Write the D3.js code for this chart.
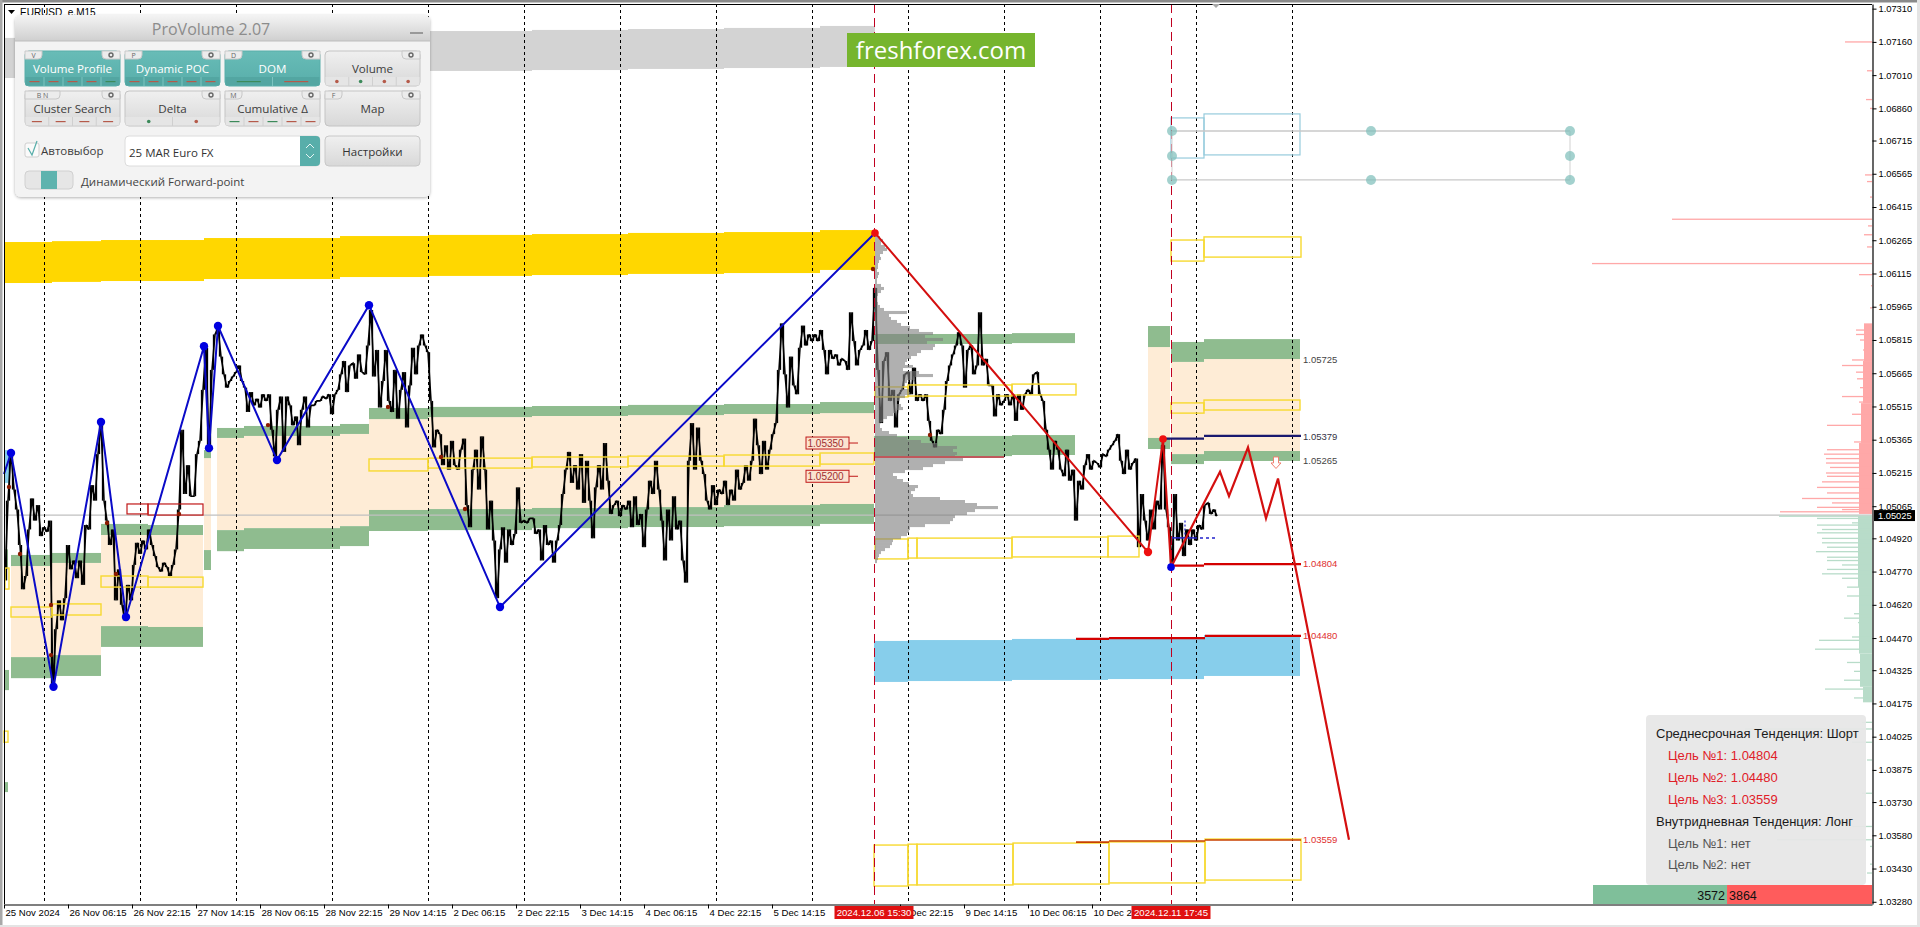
<!DOCTYPE html>
<html><head><meta charset="utf-8"><title>EURUSD M15</title>
<script src="https://cdn.jsdelivr.net/npm/d3@7/dist/d3.min.js"></script>
<style>html,body{margin:0;padding:0;background:#fff;overflow:hidden}svg{display:block}text{font-family:"Liberation Sans",Arial,sans-serif}</style>
</head><body><svg id="c" width="1920" height="927"></svg>
<script>
// ---- axis labels (prices are stored in points: 10502 = 1.0502) ----
const priceTicks=[10731,10716,10701,10686,10671.5,10656.5,10641.5,10626.5,10611.5,10596.5,10581.5,10566.5,10551.5,10536.5,10521.5,10506.5,10492,10477,10462,10447,10432.5,10417.5,10402.5,10387.5,10373,10358,10343,10328];
const timeBars=[0,64,128,192,256,320,384,448,512,576,640,704,768,896,960,1024,1088];
const timeLabels=["25 Nov 2024","26 Nov 06:15","26 Nov 22:15","27 Nov 14:15","28 Nov 06:15","28 Nov 22:15","29 Nov 14:15","2 Dec 06:15","2 Dec 22:15","3 Dec 14:15","4 Dec 06:15","4 Dec 22:15","5 Dec 14:15","6 Dec 22:15","9 Dec 14:15","10 Dec 06:15","10 Dec 22:15"];
const daySeparators=[40,136,232,328,424,520,616,712,808,904,1000,1096,1192,1288];
const eventBars=[870,1167];
const eventLabels=["2024.12.06 15:30","2024.12.11 17:45"];
// ---- price, read every third bar starting at bar 1 ----
const priceStep=3;
const priceVals=[
10473,10509,10531,10514,10505,10489,10469,10475,10496,10510,
10500,10507,10493,10497,10495,10500,10424,10451,10464,10455,
10465,10489,10478,10482,10474,10482,10471,10498,10496,10516,
10509,10530,10544,10509,10500,10489,10496,10464,10478,10462,
10455,10471,10464,10480,10490,10485,10491,10487,10496,10489,
10484,10479,10477,10481,10479,10475,10480,10487,10505,10541,
10512,10525,10511,10511,10530,10536,10559,10578,10532,10568,
10584,10587,10574,10566,10560,10563,10565,10567,10570,10563,
10560,10549,10558,10552,10555,10551,10557,10554,10557,10541,
10529,10550,10556,10531,10556,10552,10543,10547,10534,10550,
10556,10542,10552,10552,10554,10554,10556,10555,10557,10548,
10557,10559,10566,10572,10558,10570,10571,10564,10575,10567,
10566,10579,10595,10565,10577,10551,10563,10577,10554,10549,
10568,10546,10559,10567,10542,10561,10578,10566,10579,10584,
10579,10576,10554,10533,10541,10539,10525,10534,10523,10536,
10525,10523,10532,10537,10507,10497,10523,10532,10514,10538,
10523,10496,10509,10491,10465,10487,10497,10481,10496,10489,
10494,10515,10499,10500,10499,10501,10501,10494,10496,10482,
10498,10489,10491,10481,10491,10498,10512,10523,10531,10517,
10525,10514,10530,10508,10527,10509,10492,10515,10525,10514,
10535,10518,10503,10507,10509,10502,10507,10505,10509,10497,
10511,10498,10503,10488,10505,10518,10512,10527,10514,10500,
10482,10505,10491,10511,10496,10500,10482,10472,10527,10544,
10523,10542,10527,10521,10509,10505,10516,10507,10514,10512,
10518,10507,10514,10509,10523,10514,10517,10525,10518,10527,
10546,10534,10521,10536,10523,10532,10539,10544,10568,10589,
10566,10551,10574,10561,10557,10578,10588,10579,10584,10581,
10584,10581,10586,10577,10566,10577,10573,10575,10570,10573,
10572,10568,10594,10581,10570,10577,10579,10586,10577,10581,
10605,10568,10544,10572,10576,10554,10559,10542,10557,10559,
10566,10567,10557,10569,10554,10557,10554,10557,10545,10536,
10533,10541,10539,10550,10563,10570,10575,10579,10585,10579,
10560,10577,10579,10566,10570,10594,10570,10573,10561,10561,
10547,10557,10552,10554,10557,10552,10557,10545,10557,10550,
10557,10559,10557,10566,10567,10557,10554,10541,10532,10523,
10536,10532,10523,10520,10532,10518,10523,10500,10518,10514,
10525,10530,10523,10527,10526,10524,10530,10529,10532,10534,
10536,10539,10527,10521,10532,10523,10526,10528,10488,10512,
10500,10491,10505,10496,10509,10505,10534,10505,10497,10481,
10512,10491,10499,10484,10496,10489,10496,10491,10498,10496,
10507,10508,10503,10505,10502];
const bidPips=10502.5;
// ---- zigzags ----
const blueBars=[0,7,49.5,97,122,200,205,214,273,365,496,871];
const bluePips=[10521,10530.5,10425,10544.5,10456.5,10578.7,10532.7,10587.8,10527.3,10597.2,10461,10629.8];
const redBars=[871,1144,1159,1167];
const redPips=[10629.8,10485.8,10536.8,10479];
const forecastBars=[1167,1216,1225,1244,1262,1274,1345];
const forecastPips=[10479,10522,10511,10533,10501,10519,10356];
const markBars=[5,16,47,47,103,112,175,264,384,437,461,926,869];
const markPips=[10515.2,10484.9,10461.9,10439.3,10498.9,10475.9,10503,10543.1,10551.3,10528.7,10505.2,10538.6,10613.5];
// ---- daily value-area blocks ----
const blockStart=[7,48,97,144,200,213,240,336,365,424,528,624,720,816,1144,1167,1200];
const blockEnd=[48,97,144,199,207,240,336,365,424,528,624,720,816,870,1166,1200,1296];
const vahHi=[10484.5,10485.4,10498.5,10498,10531.8,10541.8,10542.7,10543.6,10550.8,10551.3,10551.7,10552.2,10552.6,10553.5,10587.8,10580.6,10581.9];
const vahLo=[10479.5,10480.9,10493.5,10493.5,10528.2,10537.3,10538.2,10539.1,10545.8,10546.7,10547.2,10547.6,10548.1,10548.5,10578.3,10571.6,10572.9];
const valHi=[10438.4,10439.3,10452.4,10452,10486.7,10495.7,10496.6,10497.5,10504.8,10505.2,10505.7,10506.1,10507,10507.5,10537.3,10530,10531.4];
const valLo=[10428.9,10429.9,10443,10443,10477.7,10486.2,10487.2,10488.5,10495.3,10495.7,10496.6,10497.1,10497.5,10498.5,10532.3,10525.5,10526.9];
const greenStart=[1,0,0,870,1008,870,1008];
const greenEnd=[5,4,4,1008,1071,1008,1071];
const greenHi=[10432.6,10382,10487,10584.2,10584.6,10538.2,10538.6];
const greenLo=[10423.5,10377.5,10478,10579.7,10580.1,10529.1,10529.6];
const goldStart=[0,48,97,200,336,424,528,624,720,816];
const goldEnd=[48,97,200,336,424,528,624,720,816,871];
const goldHi=[10625.7,10626.1,10626.6,10627.5,10628.4,10628.9,10629.3,10629.8,10630.2,10631.1];
const goldLo=[10607.2,10607.7,10608.1,10609,10609.9,10610.4,10610.8,10611.3,10611.7,10613.1];
const greyStart=[0,48,200,424,528,624,720,816];
const greyEnd=[48,200,424,528,624,720,816,871];
const greyHi=[10717.8,10718.2,10720,10720.9,10721.4,10721.8,10722.3,10723.2];
const greyLo=[10699.7,10700.2,10702,10702.9,10703.3,10703.8,10704.2,10704.7];
const skyStart=[1,870,904,1008,1104,1200];
const skyEnd=[6,904,1008,1104,1200,1296];
const skyHi=[10531.8,10445.7,10446.1,10446.6,10447,10448.4];
const skyLo=[10517,10427.2,10427.6,10428.1,10428.5,10429.9];
// ---- outlined zones ----
const yellowStart=[1,7,48,97,144,365,424,528,624,720,816,871,904,1008,871,904,913,1008,1104,1167,1200,1167,1200,870,904,913,1009,1105,1201,0];
const yellowEnd=[5,48,97,144,199,424,528,624,720,816,870,904,1008,1072,904,913,1008,1104,1135,1200,1296,1200,1297,904,913,1009,1105,1201,1297,4];
const yellowHi=[10478.6,10461,10462.4,10475,10474.5,10527.8,10528.2,10528.7,10529.1,10529.6,10530.5,10560.3,10561.2,10561.6,10491.7,10492.1,10492.1,10492.6,10493,10553.1,10554.4,10626.6,10628,10353.6,10354,10354,10354.5,10355,10356.3,10405];
const yellowLo=[10469.1,10456.5,10457.4,10470,10470,10522.4,10523.7,10524.2,10524.6,10524.6,10525.5,10555.8,10556.2,10556.7,10482.7,10483.1,10483.1,10483.6,10483.6,10548.5,10549.9,10617.1,10618.9,10335.1,10335.6,10335.6,10336,10336.5,10337.8,10400];
const redBoxStart=[123,144], redBoxEnd=[144,199], redBoxHi=[10507.5,10507.5], redBoxLo=[10503,10502.5];
const cyanStart=[1167,1200], cyanEnd=[1200,1296], cyanHi=[10681.7,10683.5], cyanLo=[10663.6,10665];
// ---- forward-point tool ----
const toolBars=[1168,1367,1566];
const toolPips=[10675.8,10664.5,10653.7];
// ---- level lines and labels ----
const levelStart=[1159,1200,1167,1200,1072,1105,1201,1072,1105,1201];
const levelEnd=[1200,1297,1200,1297,1105,1201,1297,1105,1201,1297];
const levelPips=[10537,10538.2,10479.7,10480.4,10446.6,10447,10448,10354.9,10355.4,10355.9];
const levelColors=["#191970","#191970","#d40000","#d40000","#d40000","#d40000","#d40000","#c84000","#c84000","#c84000"];
const levelTextPips=[10572.5,10537.9,10527,10480.4,10448,10355.9];
const levelTexts=["1.05725","1.05379","1.05265","1.04804","1.04480","1.03559"];
const levelTextColors=["#444","#334","#444","#e03030","#e03030","#e03030"];
const tagPips=[10535,10520], tagTexts=["1.05350","1.05200"];
// ---- session volume profile, one row every 1.354 points from the high ----
const profileTop=10629.8, profileRow=1.354;
const profileVol=[2,5,8,6,10,12,8,5,6,4,3,3,2,4,3,2,2,6,9,6,3,2,2,3,5,9,32,14,16,22,26,35,44,58,50,68,52,60,58,46,42,36,32,30,38,28,44,58,40,32,30,28,34,35,30,24,22,26,28,20,18,12,8,5,5,7,14,22,32,46,62,82,78,82,80,88,70,58,48,30,18,22,28,34,43,40,36,38,65,90,102,123,100,92,80,78,75,50,35,34,32,26,18,17,15,10,6,4,3,2];
const pocPips=10528.7;
// ---- DOM histogram at the right edge ----
const sellBasePips=[10589,10572,10553,10535,10503], sellBaseVol=[8,9,11,13,14];
const buyBasePips=[10502,10470,10440,10425,10418], buyBaseVol=[14,13,12,9,8];
const sellPips=[10716,10703,10690,10686,10656,10653,10646,10636,10633,10629,10623.5,10616,10611,10606,10596,10586,10584,10581.5,10577,10572.5,10570,10567,10564,10560,10556,10553.5,10548,10543,10535.5,10532,10530,10528,10526,10524,10521.5,10520,10517.5,10515,10512.5,10510,10508,10506,10505,10504];
const sellVol=[27,5,6,2,7,5,2,200,4,8,5,280,13,1,2,16,16,12,9,20,30,16,15,12,30,13,20,45,18,45,48,46,46,42,46,45,50,55,45,70,40,55,30,92];
const buyPips=[10502,10501,10499,10498,10496,10494.5,10492,10490,10488,10486,10483.5,10482,10480,10478,10476,10474,10470,10466,10462,10458,10456,10454,10447.5,10446,10442,10436,10432,10428,10424,10420,10409,10406,10400,10392,10377,10362,10356,10353,10345,10341];
const buyVol=[93,55,20,55,50,55,50,50,45,56,45,45,30,45,50,30,25,25,13,18,28,14,20,53,57,25,18,28,47,18,10,127,20,5,10,20,95,2,2,5];
// ---- summary panel ----
const sellCount=3864,buyCount=3572;
const trendLines=["Среднесрочная Тенденция: Шорт","Цель №1: 1.04804","Цель №2: 1.04480","Цель №3: 1.03559","Внутридневная Тенденция: Лонг","Цель №1: нет","Цель №2: нет"];
const trendKinds=["h","r","r","r","h","g","g"];
// ---- ProVolume panel ----
const buttonLabels=["Volume Profile","Dynamic POC","DOM","Volume","Cluster Search","Delta","Cumulative Δ","Map"];
const buttonTabs=["V","P","D","","B N","","M","F"];
const buttonActive=[1,1,1,0,0,0,0,0];
const buttonMarks=["rrrrg","rrrrr","GR","*r*g*r*r","rrrr","*g*r","grgrr",""];

const svg=d3.select("#c");
const x=d3.scaleLinear([0,1868],[4,1872]);
const y=d3.scaleLinear([10733.1,10327],[4,904]);
const fmt=v=>(v/10000).toFixed(5);
const zip=(a,...r)=>a.map((v,i)=>[v,...r.map(q=>q[i])]);

// frame
svg.append("rect").attr("x",0).attr("y",0).attr("width",1920).attr("height",2.5).attr("fill","#8a8a8a");
svg.append("rect").attr("x",0).attr("y",0).attr("width",2.5).attr("height",927).attr("fill","#a8a8a8");
svg.append("rect").attr("x",1917).attr("y",0).attr("width",3).attr("height",927).attr("fill","#e4e4e4");
svg.append("rect").attr("x",0).attr("y",925).attr("width",1920).attr("height",2).attr("fill","#e4e4e4");

function zones(sel,s,e,h,l,fill){
  sel.append("g").selectAll("rect").data(zip(s,e,h,l)).join("rect")
   .attr("x",d=>x(d[0])).attr("width",d=>x(d[1])-x(d[0]))
   .attr("y",d=>y(d[2])).attr("height",d=>y(d[3])-y(d[2])).attr("fill",fill);
}
function boxes(sel,s,e,h,l,col,w){
  sel.append("g").selectAll("rect").data(zip(s,e,h,l)).join("rect")
   .attr("x",d=>x(d[0])).attr("width",d=>x(d[1])-x(d[0]))
   .attr("y",d=>y(d[2])).attr("height",d=>y(d[3])-y(d[2]))
   .attr("fill","none").attr("stroke",col).attr("stroke-width",w);
}
const bg=svg.append("g");
zones(bg,blockStart,blockEnd,vahLo,valHi,"#feecd6");
zones(bg,blockStart,blockEnd,vahHi,vahLo,"#8fbc8f");
zones(bg,blockStart,blockEnd,valHi,valLo,"#8fbc8f");
zones(bg,greenStart,greenEnd,greenHi,greenLo,"#8fbc8f");
zones(bg,goldStart,goldEnd,goldHi,goldLo,"#ffd700");
zones(bg,greyStart,greyEnd,greyHi,greyLo,"#d3d3d3");
zones(bg,skyStart,skyEnd,skyHi,skyLo,"#87ceeb");

// bid line & separators
svg.append("line").attr("x1",x(0)).attr("x2",x(1868)).attr("y1",y(bidPips)).attr("y2",y(bidPips)).attr("stroke","#c0c0c0").attr("stroke-width",1.2);
svg.append("g").selectAll("line").data(daySeparators).join("line")
 .attr("x1",d=>x(d)+.5).attr("x2",d=>x(d)+.5).attr("y1",4).attr("y2",904)
 .attr("stroke","#000").attr("stroke-width",1).attr("stroke-dasharray","3 3");

// price: line plus a high-low stroke for each pair of neighbouring readings
svg.append("path").datum(priceVals).attr("fill","none").attr("stroke","#000").attr("stroke-width",1.6)
 .attr("stroke-linejoin","miter").attr("stroke-miterlimit",2)
 .attr("d",d3.line().x((d,i)=>x(1+i*priceStep)).y(d=>y(d)));
svg.append("g").selectAll("line").data(priceVals.slice(1)).join("line")
 .attr("x1",(d,i)=>x(1+i*priceStep)+1.5).attr("x2",(d,i)=>x(1+i*priceStep)+1.5)
 .attr("y1",(d,i)=>y(priceVals[i])).attr("y2",d=>y(d))
 .attr("stroke","#000").attr("stroke-width",1.3);

// outlined zones
boxes(svg,yellowStart,yellowEnd,yellowHi,yellowLo,"#f7d92f",1.4);
boxes(svg,redBoxStart,redBoxEnd,redBoxHi,redBoxLo,"#c01818",1.2);
boxes(svg,cyanStart,cyanEnd,cyanHi,cyanLo,"#96cbdc",1.2);

// profile
svg.append("g").attr("opacity",.62).selectAll("rect").data(profileVol).join("rect")
 .attr("x",x(871)).attr("y",(d,i)=>y(profileTop-i*profileRow)).attr("height",3.1).attr("width",d=>d).attr("fill","#808080");
svg.append("line").attr("x1",x(871)).attr("x2",x(1000)).attr("y1",y(pocPips)).attr("y2",y(pocPips)).attr("stroke","#c0585c").attr("stroke-width",2);

// event lines
svg.append("g").selectAll("line").data(eventBars).join("line")
 .attr("x1",d=>x(d)+.5).attr("x2",d=>x(d)+.5).attr("y1",4).attr("y2",904)
 .attr("stroke","#c00020").attr("stroke-width",1).attr("stroke-dasharray","9 5");

// levels
svg.append("g").selectAll("line").data(zip(levelStart,levelEnd,levelPips,levelColors)).join("line")
 .attr("x1",d=>x(d[0])).attr("x2",d=>x(d[1])).attr("y1",d=>y(d[2])).attr("y2",d=>y(d[2]))
 .attr("stroke",d=>d[3]).attr("stroke-width",(d,i)=>i>6?1.6:2.2);
svg.append("g").selectAll("text").data(zip(levelTextPips,levelTexts,levelTextColors)).join("text")
 .attr("x",x(1299)).attr("y",d=>y(d[0])+3.4).attr("font-size",9.5).attr("fill",d=>d[2]).text(d=>d[1]);
// tags
const tags=svg.append("g").selectAll("g").data(zip(tagPips,tagTexts)).join("g");
tags.append("rect").attr("x",x(802)).attr("width",43).attr("y",d=>y(d[0])-6).attr("height",12).attr("fill","#fbe3d0").attr("stroke","#c01818").attr("stroke-width",1);
tags.append("text").attr("x",x(803.5)).attr("y",d=>y(d[0])+3.5).attr("font-size",10).attr("fill","#a03030").text(d=>d[1]);
tags.append("line").attr("x1",x(845)).attr("x2",x(854)).attr("y1",d=>y(d[0])).attr("y2",d=>y(d[0])).attr("stroke","#c01818");

// small marks
svg.append("g").selectAll("circle").data(zip(markBars,markPips)).join("circle")
 .attr("cx",d=>x(d[0])).attr("cy",d=>y(d[1])).attr("r",2.2).attr("fill","#8b1a00");

// intraday blue level
const bl=y(10492.2);
svg.append("line").attr("x1",x(1168)).attr("x2",x(1190)).attr("y1",bl).attr("y2",bl).attr("stroke","#2222cc").attr("stroke-width",1.5);
svg.append("line").attr("x1",x(1190)).attr("x2",x(1214)).attr("y1",bl).attr("y2",bl).attr("stroke","#2222cc").attr("stroke-width",1.5).attr("stroke-dasharray","3 3");
svg.append("line").attr("x1",x(1181)).attr("x2",x(1181)).attr("y1",y(10500)).attr("y2",bl).attr("stroke","#2222cc").attr("stroke-width",1.2).attr("stroke-dasharray","2 2");

// zigzags
const zl=d3.line().x(d=>x(d[0])).y(d=>y(d[1]));
svg.append("path").attr("d",zl(zip(blueBars,bluePips))).attr("fill","none").attr("stroke","#0a0ac8").attr("stroke-width",2);
svg.append("path").attr("d",zl(zip(redBars,redPips))).attr("fill","none").attr("stroke","#d40f0f").attr("stroke-width",2);
svg.append("path").attr("d",zl(zip(forecastBars,forecastPips))).attr("fill","none").attr("stroke","#d40f0f").attr("stroke-width",2.2);
svg.append("g").selectAll("circle").data(zip(blueBars,bluePips).slice(1,-1)).join("circle")
 .attr("cx",d=>x(d[0])).attr("cy",d=>y(d[1])).attr("r",4.2).attr("fill","#0000e0");
svg.append("g").selectAll("circle").data(zip(redBars,redPips)).join("circle")
 .attr("cx",d=>x(d[0])).attr("cy",d=>y(d[1])).attr("r",(d,i)=>i==1?4.2:3.8).attr("fill",(d,i)=>i==3?"#0000e0":"#ee1010");

// forecast arrow
svg.append("path").attr("transform",`translate(${x(1272)},${y(10526)})`)
 .attr("d","M-2.5,-6H2.5V0H5L0,5.5L-5,0H-2.5Z").attr("fill","#fff").attr("stroke","#ee8070").attr("stroke-width",1);

// tool
const tool=svg.append("g");
toolPips.filter((d,i)=>i!=1).forEach(p=>tool.append("line").attr("x1",x(toolBars[0])).attr("x2",x(toolBars[2])).attr("y1",y(p)).attr("y2",y(p)).attr("stroke","#c8c8c8").attr("stroke-width",1.3));
[toolBars[0],toolBars[2]].forEach(b=>tool.append("line").attr("x1",x(b)).attr("x2",x(b)).attr("y1",y(toolPips[0])).attr("y2",y(toolPips[2])).attr("stroke","#dcdcdc").attr("stroke-width",1.3));
toolBars.forEach(b=>toolPips.forEach((p,i)=>{ if(i==1&&b==toolBars[1])return;
  tool.append("circle").attr("cx",x(b)).attr("cy",y(p)).attr("r",5).attr("fill","#7fbfbb").attr("opacity",.72);}));

// DOM histogram
function dom(base,baseVol,pips,vol,col,next){
  const g=svg.append("g").attr("fill",col);
  g.selectAll("rect.b").data(zip(base,baseVol).slice(0,-1)).join("rect").attr("class","b")
   .attr("x",d=>1872-d[1]).attr("width",d=>d[1]).attr("y",d=>y(d[0]))
   .attr("height",(d,i)=>y(base[i+1])-y(d[0]));
  g.selectAll("rect.s").data(zip(pips,vol)).join("rect").attr("class","s")
   .attr("x",d=>1872-d[1]).attr("width",d=>d[1]).attr("y",d=>y(d[0])-.6).attr("height",1.3);
}
dom(sellBasePips,sellBaseVol,sellPips,sellVol,"#ffa8a8");
dom(buyBasePips,buyBaseVol,buyPips,buyVol,"#b8dcc9");

// summary
svg.append("rect").attr("x",1646).attr("y",715).attr("width",220).attr("height",170).attr("rx",4).attr("fill","#e6e6e6").attr("opacity",.93);
const trendX={h:1656,r:1668,g:1668}, trendC={h:"#1a1a1a",r:"#e02028",g:"#555"};
svg.append("g").selectAll("text").data(zip(trendLines,trendKinds)).join("text")
 .attr("x",d=>trendX[d[1]]).attr("y",(d,i)=>738+i*21.9).attr("font-size",13).attr("fill",d=>trendC[d[1]]).text(d=>d[0]);
const split=d3.scaleLinear([0,sellCount+buyCount],[1593,1872]);
svg.append("rect").attr("x",split(0)).attr("y",885).attr("width",split(buyCount)-split(0)+0).attr("height",19).attr("fill","#7fbf9a");
svg.append("rect").attr("x",split(buyCount)).attr("y",885).attr("width",1872-split(buyCount)).attr("height",19).attr("fill","#ff5c5c");
svg.append("text").attr("x",split(buyCount)-2).attr("y",900).attr("text-anchor","end").attr("font-size",12.5).attr("fill","#111").text(buyCount);
svg.append("text").attr("x",split(buyCount)+2).attr("y",900).attr("font-size",12.5).attr("fill","#111").text(sellCount);

// axes
const yAxis=d3.axisRight(y).tickValues(priceTicks).tickFormat(fmt).tickSize(4).tickSizeOuter(0);
const ga=svg.append("g").attr("transform","translate(1872.5,0)").call(yAxis);
ga.selectAll("text").attr("x",6).attr("font-size",9.3).attr("fill","#000").attr("font-family","Liberation Sans");
ga.selectAll(".domain").attr("stroke","#000").attr("stroke-width",1.2);
const xAxis=d3.axisBottom(x).tickValues(timeBars).tickFormat((d,i)=>timeLabels[i]).tickSize(4).tickSizeOuter(0);
const gx=svg.append("g").attr("transform","translate(0,904.5)").call(xAxis);
gx.selectAll("text").attr("text-anchor","start").attr("x",1).attr("y",5).attr("font-size",9.6).attr("fill","#000").attr("font-family","Liberation Sans");
gx.selectAll(".domain").attr("stroke","#000").attr("stroke-width",1.2);
svg.append("line").attr("x1",4.5).attr("x2",4.5).attr("y1",4).attr("y2",904).attr("stroke","#000");
svg.append("line").attr("x1",4).attr("x2",1872).attr("y1",4.5).attr("y2",4.5).attr("stroke","#000");
// bid tag
svg.append("rect").attr("x",1874).attr("y",y(bidPips)-5).attr("width",41).attr("height",11).attr("fill","#000");
svg.append("text").attr("x",1878).attr("y",y(bidPips)+3.5).attr("font-size",9.3).attr("fill","#fff").text(fmt(bidPips));
// event tags
const et=svg.append("g").selectAll("g").data(zip(eventBars,eventLabels)).join("g");
et.append("rect").attr("x",d=>x(d[0])-39.5).attr("y",906).attr("width",79).attr("height",13).attr("fill","#e01010");
et.append("text").attr("x",d=>x(d[0])).attr("y",916).attr("text-anchor","middle").attr("font-size",9.6).attr("fill","#fff").text(d=>d[1]);
// top marker
svg.append("path").attr("d","M1212,4H1220L1216,8Z").attr("fill","#a8a8a8");
// chart caption
svg.append("path").attr("d","M8,10H15L11.5,14Z").attr("fill","#000");
svg.append("text").attr("x",20).attr("y",16).attr("font-size",10).attr("fill","#000").text("EURUSD_e,M15");

// logo
svg.append("rect").attr("x",847).attr("y",33).attr("width",188).attr("height",34).attr("fill","#76b52e");
svg.append("text").attr("x",941).attr("y",58.5).attr("text-anchor","middle").attr("font-size",24).attr("fill","#fff").style("font-family","'Open Sans'").text("freshforex.com");

// ProVolume panel
const defs=svg.append("defs");
const mk=(id,a,b)=>{const g=defs.append("linearGradient").attr("id",id).attr("x1",0).attr("x2",0).attr("y1",0).attr("y2",1);g.append("stop").attr("offset",0).attr("stop-color",a);g.append("stop").attr("offset",1).attr("stop-color",b);};
mk("hd","#f4f4f4","#cfcfcf");mk("bt","#f0f0f0","#d8d8d8");mk("tl","#68bcb7","#58aeaa");
const f=defs.append("filter").attr("id","sh").attr("x","-5%").attr("y","-5%").attr("width","110%").attr("height","115%");
f.append("feDropShadow").attr("dx",0).attr("dy",1).attr("stdDeviation",1.5).attr("flood-color","#000").attr("flood-opacity",.3);
const pn=svg.append("g");
pn.append("rect").attr("x",15).attr("y",15).attr("width",415).attr("height",182).attr("rx",6).attr("fill","#f3f3f3").attr("filter","url(#sh)");
pn.append("path").attr("d","M15,41V21a6,6 0 0 1 6,-6H424a6,6 0 0 1 6,6V41Z").attr("fill","url(#hd)");
pn.append("line").attr("x1",15).attr("x2",430).attr("y1",41).attr("y2",41).attr("stroke","#bdbdbd");
const ptx=(px,py,s,t,c,a)=>pn.append("text").attr("x",px).attr("y",py).attr("font-size",s).attr("fill",c).attr("text-anchor",a||"start").style("font-family","'Open Sans'").text(t);
ptx(211,35,16,"ProVolume 2.07","#8c8c8c","middle");
pn.append("rect").attr("x",410).attr("y",32).attr("width",13).attr("height",2).attr("fill","#999");
const colX=[25,125,225,325], rowY=[51,91];
buttonLabels.forEach((lab,i)=>{
  const bx=colX[i%4], by=rowY[i<4?0:1], act=buttonActive[i];
  pn.append("rect").attr("x",bx).attr("y",by).attr("width",95).attr("height",35).attr("rx",4).attr("fill",act?"url(#tl)":"url(#bt)").attr("stroke",act?"#58aeaa":"#c4c4c4");
  ptx(bx+47.5,by+22,11.6,lab,act?"#fff":"#3c3c3c","middle");
  const mrk=buttonMarks[i];
  if(mrk){
    pn.append("rect").attr("x",bx+.5).attr("y",by+26).attr("width",94).attr("height",8.5).attr("fill",act?"#52a5a1":"#e6e6e6").attr("opacity",.9);
    const items=mrk.startsWith("*")?mrk.split("*").slice(1):mrk.split("");
    const w=95/items.length;
    items.forEach((m,k)=>{
      const cx=bx+w*(k+.5),c=/r/i.test(m)?"#b55a4a":"#3c8a5a";
      if(mrk.startsWith("*")) pn.append("circle").attr("cx",cx).attr("cy",by+30.5).attr("r",1.8).attr("fill",c);
      else pn.append("rect").attr("x",cx-(m<"a"?12:5)).attr("width",m<"a"?24:10).attr("y",by+30).attr("height",1.2).attr("fill",c);
      if(k) pn.append("line").attr("x1",bx+w*k).attr("x2",bx+w*k).attr("y1",by+26).attr("y2",by+35).attr("stroke",act?"#7cc4c0":"#cfcfcf");
    });
  }
  const tw=buttonTabs[i].length>1?35:17;
  if(buttonTabs[i]){
    pn.append("path").attr("d",`M${bx},${by}H${bx+tw}V${by+4}a4,4 0 0 1 -4,4H${bx}Z`).attr("fill","#ececec").attr("stroke","#c8c8c8");
    ptx(bx+tw/2,by+6.5,7,buttonTabs[i],"#666","middle");
  }
  pn.append("path").attr("d",`M${bx+95},${by}H${bx+77}V${by+4}a4,4 0 0 0 4,4H${bx+95}Z`).attr("fill","#ececec").attr("stroke","#c8c8c8");
  pn.append("circle").attr("cx",bx+86).attr("cy",by+4).attr("r",2).attr("fill","none").attr("stroke","#666").attr("stroke-width",1.4);
});
pn.append("rect").attr("x",25).attr("y",143).attr("width",14).attr("height",14).attr("rx",2).attr("fill","#fafafa").attr("stroke","#cfcfcf");
pn.append("path").attr("d","M28,148L32,155L37,141").attr("fill","none").attr("stroke","#58aeaa").attr("stroke-width",1.2);
ptx(41,155,11.5,"Автовыбор","#3c3c3c");
pn.append("rect").attr("x",125).attr("y",136).attr("width",195).attr("height",30).attr("rx",4).attr("fill","#fff").attr("stroke","#dcdcdc");
pn.append("path").attr("d","M300,136H316a4,4 0 0 1 4,4V162a4,4 0 0 1 -4,4H300Z").attr("fill","#58aeaa");
pn.append("path").attr("d","M306,148L310,144L314,148M306,154L310,158L314,154").attr("fill","none").attr("stroke","#e6f4f3");
ptx(129,157,11.5,"25 MAR Euro FX","#333");
pn.append("rect").attr("x",325).attr("y",136).attr("width",95).attr("height",30).attr("rx",4).attr("fill","url(#bt)").attr("stroke","#c8c8c8");
ptx(372.5,156,11.5,"Настройки","#333","middle");
pn.append("rect").attr("x",25).attr("y",171).attr("width",48).attr("height",18).attr("rx",4).attr("fill","#e6e6e6").attr("stroke","#d0d0d0");
pn.append("rect").attr("x",41).attr("y",171).attr("width",16).attr("height",18).attr("fill","#5eb3ae");
ptx(81,186,11.5,"Динамический Forward-point","#444");
</script></body></html>
